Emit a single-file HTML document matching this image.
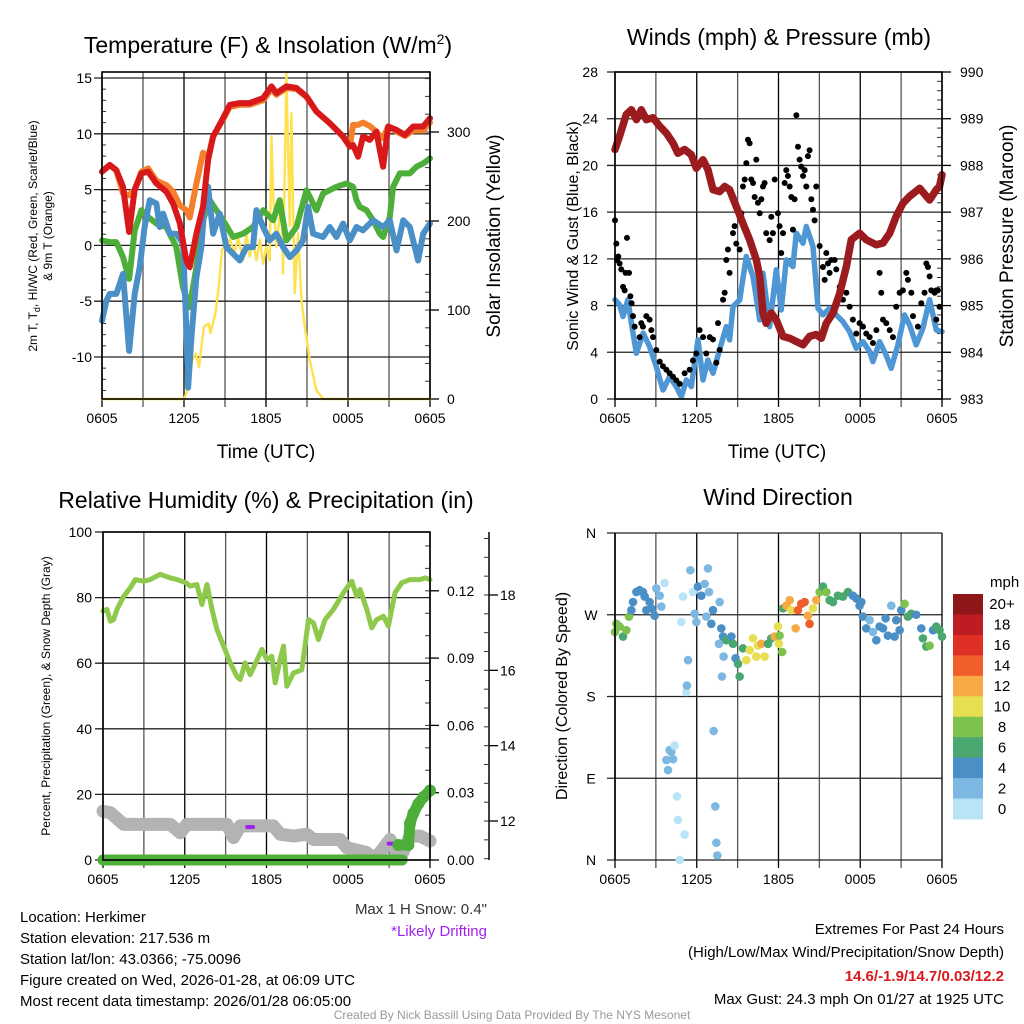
<!DOCTYPE html>
<html><head><meta charset="utf-8">
<style>
html,body{margin:0;padding:0;background:#fff;}
svg{display:block;font-family:"Liberation Sans",sans-serif;}
</style></head>
<body>
<svg id="root" width="1024" height="1024" viewBox="0 0 1024 1024" xmlns="http://www.w3.org/2000/svg">
<rect width="1024" height="1024" fill="#fff"/>
<g id="static" font-family="Liberation Sans, sans-serif" fill="#000">
 <text x="268" y="53" font-size="23" text-anchor="middle">Temperature (F) &amp; Insolation (W/m<tspan dy="-9" font-size="14">2</tspan><tspan dy="9">)</tspan></text>
 <text x="779" y="45" font-size="23" text-anchor="middle">Winds (mph) &amp; Pressure (mb)</text>
 <text x="266" y="508" font-size="23" text-anchor="middle">Relative Humidity (%) &amp; Precipitation (in)</text>
 <text x="778" y="505" font-size="23" text-anchor="middle">Wind Direction</text>
 <text x="266" y="458" font-size="19" text-anchor="middle">Time (UTC)</text>
 <text x="777" y="458" font-size="19" text-anchor="middle">Time (UTC)</text>
 <text transform="translate(37,236) rotate(-90)" font-size="12" text-anchor="middle">2m T, T<tspan dy="3" font-size="9">d</tspan><tspan dy="-3">, HI/WC (Red, Green, Scarlet/Blue)</tspan></text>
 <text transform="translate(52,236) rotate(-90)" font-size="12" text-anchor="middle">&amp; 9m T (Orange)</text>
 <text transform="translate(500,236) rotate(-90)" font-size="19" text-anchor="middle">Solar Insolation (Yellow)</text>
 <text transform="translate(578,236) rotate(-90)" font-size="16" text-anchor="middle">Sonic Wind &amp; Gust (Blue, Black)</text>
 <text transform="translate(1013,236) rotate(-90)" font-size="19" text-anchor="middle">Station Pressure (Maroon)</text>
 <text transform="translate(50,696) rotate(-90)" font-size="12" text-anchor="middle">Percent, Precipitation (Green), &amp; Snow Depth (Gray)</text>
 <text transform="translate(567,696) rotate(-90)" font-size="16" text-anchor="middle">Direction (Colored By Speed)</text>
 <text x="990" y="587" font-size="15">mph</text>
 <g font-size="15">
  <text x="20" y="922">Location: Herkimer</text>
  <text x="20" y="943">Station elevation: 217.536 m</text>
  <text x="20" y="964">Station lat/lon: 43.0366; -75.0096</text>
  <text x="20" y="985">Figure created on Wed, 2026-01-28, at 06:09 UTC</text>
  <text x="20" y="1006">Most recent data timestamp: 2026/01/28 06:05:00</text>
 </g>
 <text x="487" y="914" font-size="15" text-anchor="end" fill="#333">Max 1 H Snow: 0.4"</text>
 <text x="487" y="936" font-size="15" text-anchor="end" fill="#a020f0">*Likely Drifting</text>
 <g font-size="15" text-anchor="end">
  <text x="1004" y="934">Extremes For Past 24 Hours</text>
  <text x="1004" y="957">(High/Low/Max Wind/Precipitation/Snow Depth)</text>
  <text x="1004" y="981" fill="#d7191c" font-weight="bold">14.6/-1.9/14.7/0.03/12.2</text>
  <text x="1004" y="1004">Max Gust: 24.3 mph On 01/27 at 1925 UTC</text>
 </g>
 <text x="512" y="1019" font-size="12" text-anchor="middle" fill="#999">Created By Nick Bassill Using Data Provided By The NYS Mesonet</text>
</g>
<g id="dyn"></g>
</svg>
<script>
// ---------- data ----------
const xTickLabels = ["0605","1205","1805","0005","0605"];
const tempTicks = [15,10,5,0,-5,-10];
const insolTicks = [0,100,200,300];
const windTicks = [0,4,8,12,16,20,24,28];
const presTicks = [983,984,985,986,987,988,989,990];
const rhTicks = [0,20,40,60,80,100];
const precipTicks = [0.00,0.03,0.06,0.09,0.12];
const precipLabels = ["0.00","0.03","0.06","0.09","0.12"];
const snowTicks = [12,14,16,18];
const dirTicks = [0,90,180,270,360];
const dirLabels = ["N","E","S","W","N"];
const speedBinLabels = ["0","2","4","6","8","10","12","14","16","18","20+"];
const speedBinColors = ["#b9e4f7","#7db8e2","#4a8fc6","#4aa770","#7cc24c","#e6df52","#f7a944","#ef5f2a","#e03026","#bd1c22","#8e1719"];

const redT = [0,0.56,1.05,1.54,1.98,2.39,2.88,3.37,3.98,4.71,5.2,5.69,6.17,6.42,6.91,7.39,7.76,8.13,8.86,9.35,10.08,10.81,11.79,12.4,12.76,13.49,14.23,14.96,15.69,16.67,17.64,18.13,18.37,18.74,19.1,19.59,20.08,20.33,20.57,20.94,21.55,22.16,22.77,23.5,24];
const redV = [6.6,7.2,6.75,5.25,1.2,5.0,6.45,6.6,5.55,4.8,3.75,2.0,-1.35,-1.95,1.05,3.45,7.65,9.75,11.4,12.6,12.75,12.75,13.2,14.25,13.65,14.25,14.1,13.35,12.0,10.95,9.75,8.85,9.0,7.95,9.75,9.45,10.2,8.55,7.05,10.65,10.35,9.9,10.65,10.65,11.4];
const orangeV = [6.6,7.2,6.75,4.65,4.5,5.0,6.6,6.9,5.8,5.4,4.8,3.6,3.15,2.5,5.55,8.3,7.9,9.75,11.3,12.4,12.6,12.6,13.0,14.0,13.5,14.1,14.0,13.3,12.0,10.95,9.75,8.85,10.8,10.8,11.0,10.7,10.2,9.8,9.6,10.65,10.2,9.8,10.3,10.3,11.0];
const greenT = [0,0.56,1.05,1.54,1.98,2.39,2.88,3.37,3.98,4.71,5.44,5.93,6.42,6.91,7.39,7.88,8.86,9.59,10.32,11.05,11.79,12.52,13.0,13.49,14.23,14.96,15.69,16.18,17.15,17.89,18.37,18.62,18.86,19.35,19.84,20.33,20.57,21.06,21.3,21.79,22.52,23.01,23.5,24];
const greenV = [0.45,0.3,0.3,-1.05,-3.0,1.35,3.15,2.55,1.95,1.65,-0.15,-3.75,-5.55,-1.95,2.25,4.05,2.25,0.75,1.05,1.65,3.15,2.25,4.05,0.45,1.65,4.95,3.15,4.65,5.25,5.55,5.25,4.05,3.45,3.15,2.25,1.05,0.75,2.55,5.25,6.45,6.45,7.05,7.35,7.8];
const wcT = [0,0.32,0.56,1.05,1.54,1.98,2.39,2.76,3.12,3.49,3.98,4.22,4.47,4.95,5.44,5.93,6.17,6.3,6.54,6.91,7.27,7.52,7.76,8.13,8.61,9.1,9.59,10.08,10.57,11.05,11.3,11.79,12.27,12.76,13.25,13.74,14.23,14.71,15.08,15.45,16.18,16.67,17.15,17.64,18.13,18.62,19.1,19.84,20.57,21.06,21.55,22.04,22.52,23.13,23.5,24];
const wcV = [-6.75,-4.95,-4.35,-4.35,-2.55,-9.45,-4.35,-1.95,1.65,4.05,3.75,1.65,2.85,1.05,1.05,0.15,-7.35,-12.75,-8.25,-2.85,-0.15,4.05,5.25,1.05,2.85,-0.15,-0.75,-1.35,-0.15,-0.15,3.15,1.65,0.45,1.05,-0.15,-1.05,-0.45,0.45,3.45,1.05,0.75,1.65,0.75,1.95,0.45,1.65,1.35,2.25,1.65,2.25,-0.45,2.25,1.65,-1.35,1.05,1.95];
const insolT = [0,6.0,6.25,6.61,6.86,7.1,7.45,7.81,7.93,8.3,8.54,8.79,9.35,9.71,9.96,10.32,10.57,10.81,11.06,11.3,11.55,11.79,12.03,12.27,12.4,12.52,12.76,13.12,13.25,13.49,13.74,13.86,14.1,14.35,14.6,14.84,15.2,15.69,16.18,24];
const insolV = [0,0,10,44,51,36,81,85,74,96,126,168,179,164,182,156,186,160,179,156,179,152,171,156,295,231,171,224,141,366,194,321,119,186,111,81,44,10,0,0];

const presT = [0,0.34,0.83,1.2,1.57,1.93,2.3,2.79,3.28,3.77,4.26,4.62,5.11,5.6,5.97,6.46,6.82,7.19,7.68,8.05,8.41,8.9,9.39,9.88,10.37,10.62,10.86,11.1,11.47,11.84,12.33,12.82,13.31,13.8,14.28,14.77,15.14,15.51,16.0,16.49,16.98,17.34,17.95,18.44,19.18,19.67,20.16,20.64,21.13,21.62,22.36,23.09,23.58,23.82,24];
const presV = [988.34,988.63,989.09,989.19,988.98,989.19,988.98,989.02,988.84,988.69,988.48,988.26,988.34,988.23,987.94,988.12,987.91,987.48,987.44,987.55,987.48,987.12,986.76,986.41,985.98,985.62,984.84,984.62,984.84,984.69,984.34,984.3,984.23,984.16,984.34,984.38,984.3,984.62,984.84,985.26,985.84,986.41,986.55,986.41,986.3,986.34,986.55,986.91,987.19,987.34,987.51,987.26,987.48,987.55,987.8];
const windT = [0,0.34,0.59,0.95,1.2,1.57,2.06,2.54,3.03,3.52,4.01,4.5,4.87,5.23,5.6,6.09,6.46,6.82,7.19,7.68,8.17,8.41,8.66,9.15,9.64,10.13,10.62,10.86,11.35,11.84,12.2,12.57,13.06,13.31,13.8,14.04,14.53,14.9,15.26,15.75,16.24,16.73,17.22,17.71,18.2,18.69,18.93,19.42,19.9,20.27,20.76,21.25,21.62,22.11,22.6,23.09,23.58,24];
const windV = [8.49,8.06,7.06,8.49,6.49,3.91,5.63,4.49,2.77,0.77,1.91,1.06,0.2,1.63,1.06,5.06,1.63,3.34,2.2,4.2,6.2,5.06,7.91,8.49,12.2,10.49,6.77,10.77,6.2,11.06,7.63,11.91,11.34,14.2,13.34,14.77,13.06,7.77,7.2,7.77,7.2,6.63,5.77,4.34,4.91,4.06,3.2,4.91,3.77,2.63,4.63,7.2,6.34,4.63,6.06,8.49,5.91,5.77];
const gustT = [0,0.1,0.15,0.24,0.34,0.46,0.59,0.71,0.78,0.88,1.03,1.13,1.22,1.32,1.44,1.81,1.93,2.05,2.3,2.54,2.67,2.79,3.03,3.28,3.52,3.77,4.01,4.26,4.5,4.75,5.11,5.48,5.72,5.97,6.21,6.46,6.7,6.95,7.19,7.44,7.68,7.56,7.93,8.05,8.17,8.29,8.41,8.66,8.78,8.9,9.03,9.15,9.27,9.39,9.52,9.64,9.76,9.88,10.0,10.13,10.25,10.37,10.49,10.62,10.74,10.86,10.98,11.1,11.35,11.47,11.59,11.72,11.96,12.08,12.2,12.33,12.45,12.57,12.69,12.82,12.94,13.06,13.18,13.31,13.43,13.55,13.67,13.8,13.92,14.04,14.16,14.28,14.41,14.53,14.65,14.77,15.02,15.26,15.39,15.51,15.63,15.75,15.87,16.12,16.24,16.49,16.73,16.98,17.22,17.46,17.71,17.95,18.2,18.44,18.69,18.93,19.18,19.42,19.54,19.67,19.91,20.16,20.4,20.64,20.89,21.13,21.38,21.5,21.75,21.87,22.23,22.48,22.72,22.85,22.97,23.09,23.21,23.46,23.58,23.7,23.82,23.58];
const gustV = [15.3,13.3,11.9,12.2,11.6,11.1,9.6,9.3,10.8,13.8,10.8,8.8,8.2,7.1,6.2,5.3,6.5,6.2,7.1,6.8,5.9,5.3,4.2,3.2,2.8,2.5,2.2,1.9,1.6,1.3,2.2,2.5,3.3,3.9,5.9,5.3,3.9,5.3,5.1,3.1,4.2,6.5,8.5,9.1,11.9,12.8,10.8,14.2,14.8,13.3,16.2,12.8,15.9,18.2,18.8,20.2,22.2,21.9,18.8,18.5,17.3,20.5,16.8,15.9,17.1,18.2,18.5,14.2,13.6,15.6,14.2,18.8,15.9,14.8,12.5,14.2,18.5,19.6,19.1,18.2,17.3,14.5,17.1,24.3,21.6,20.5,19.9,19.1,19.6,18.2,20.8,21.3,17.1,16.2,15.3,18.2,13.1,11.3,10.2,12.5,11.6,10.8,11.9,11.9,11.1,9.6,8.5,9.1,7.9,6.8,5.6,6.5,6.2,5.6,5.3,4.8,5.9,10.8,9.1,6.8,6.5,5.9,5.3,7.9,9.1,9.3,10.8,10.2,9.1,7.1,6.2,8.2,9.1,11.6,11.3,10.5,9.3,9.1,9.3,9.3,7.9,6.8];

const rhT = [0,0.29,0.54,0.78,1.03,1.52,2.0,2.37,2.98,3.47,4.2,4.94,5.43,6.11,6.4,6.89,7.26,7.63,8.0,8.36,8.85,9.34,9.82,10.07,10.43,10.8,11.66,12.02,12.39,12.64,13.0,13.25,13.49,13.98,14.59,15.08,15.45,15.81,16.3,16.91,17.65,18.26,18.62,18.87,19.36,19.72,20.09,20.58,20.95,21.43,21.92,22.53,23.27,23.63,24];
const rhV = [75.9,76.4,72.8,73.3,76.4,80.4,83.0,85.5,85.0,85.5,87.1,86.0,85.5,84.5,83.5,84.0,77.9,84.0,76.4,70.3,65.2,60.1,56.0,55.0,60.1,56.5,64.2,61.1,62.1,54.0,61.1,65.2,53.0,57.0,58.0,73.3,72.3,67.2,73.3,76.4,81.5,85.0,80.4,82.5,76.4,70.8,73.3,74.3,71.3,81.5,84.5,85.5,85.5,86.0,85.5];
const snowT = [0,0.54,1.52,3.23,4.94,5.67,6.16,9.09,9.58,10.07,11.29,12.51,13.0,13.98,14.96,15.45,17.4,17.89,19.36,19.84,20.33,21.07,21.8,22.53,23.27,24];
const snowV = [12.26,12.22,11.91,11.91,11.91,11.69,11.91,11.91,11.56,11.87,11.87,11.87,11.65,11.6,11.65,11.51,11.51,11.29,11.16,10.99,11.16,11.51,10.99,11.6,11.6,11.47];
const precipBaseT = [0,21.95];
const precipBaseV = [0,0];
const precipT = [21.68,22.41,22.53,22.78,23.14,23.51,24];
const precipV = [0.0067,0.0067,0.0163,0.0208,0.025,0.028,0.031];
const driftT = [10.8,21.19];
const driftV = [11.84,11.4];

const dirT = [0,0.1,0.34,0.59,0.83,1.03,1.2,1.32,1.57,1.81,2.05,2.18,2.3,2.54,2.67,2.91,3.03,3.28,3.4,3.64,3.77,3.89,4.01,4.13,4.38,4.26,4.55,4.62,4.75,5.11,4.87,4.99,5.23,5.28,5.36,5.53,5.72,5.85,5.97,6.09,6.34,6.58,6.7,6.82,6.9,7.19,7.24,7.36,7.44,7.51,7.07,7.68,7.8,7.93,7.63,7.85,7.97,8.17,8.54,8.66,8.85,9.03,9.15,9.39,9.64,9.88,10.13,10.37,10.49,10.74,10.98,11.23,11.47,11.72,11.96,12.08,12.27,12.03,12.33,12.57,12.82,12.94,13.26,13.43,13.67,13.92,14.16,14.28,14.53,14.77,15.02,15.26,15.51,15.75,16.0,16.36,16.73,17.1,17.46,17.71,18.08,17.95,18.2,18.44,18.69,18.93,19.18,19.42,19.67,19.86,20.03,20.28,20.52,20.64,20.89,21.01,21.25,21.5,21.75,22.11,22.48,22.6,22.85,23.09,23.34,23.58,23.82,24];
const dirV = [251,260,257,246,253,268,275,284,295,297,295,290,275,284,277,269,299,291,279,305,110,99,121,119,126,111,70,44,0,28,262,290,185,192,220,319,295,271,262,301,291,304,268,321,295,275,142,59,19,5,260,284,255,246,238,202,224,242,246,238,222,216,202,233,220,231,244,224,236,238,224,238,244,246,257,247,229,238,277,280,286,275,255,275,282,284,269,260,277,286,295,301,295,286,284,291,290,295,291,288,284,280,268,255,264,251,242,257,255,266,247,280,246,264,253,275,282,268,271,270,255,244,235,236,253,257,253,246];
const dirSpeed = [8,8,8,6,8,8,4,4,4,4,4,4,4,4,4,4,3,2,2,1,2,3,3,3,1,2,1,1,1,1,1,1,1,2,2,3,1,2,3,4,4,3,3,3,3,4,3,3,3,3,4,2,4,4,3,3,2,6,4,6,4,6,6,6,10,11,10,10,11,12,10,6,6,12,10,8,8,10,7,12,12,10,12,14,15,14,12,15,10,12,8,6,8,6,7,6,6,6,5,4,4,4,4,4,2,3,4,4,4,4,4,2,4,4,4,4,8,6,6,4,4,6,6,8,4,6,6,6];

// ---------- helpers ----------
const NS = "http://www.w3.org/2000/svg";
const dyn = document.getElementById("dyn");
function mk(tag, attrs, parent){const e=document.createElementNS(NS,tag);for(const k in attrs)e.setAttribute(k,attrs[k]);(parent||dyn).appendChild(e);return e;}
function panelX(P){return t=>P.l+t/24*(P.r-P.l);}
function linScale(d0,d1,r0,r1){return v=>r0+(v-d0)/(d1-d0)*(r1-r0);}
function pathD(ts,vs,sx,sy){let d="";for(let i=0;i<ts.length;i++)d+=(i?"L":"M")+sx(ts[i]).toFixed(1)+","+sy(vs[i]).toFixed(1);return d;}

const P1={l:102,r:430,t:72,b:399}, P2={l:615,r:942,t:72,b:399}, P3={l:103,r:430,t:532,b:860}, P4={l:615,r:942,t:533,b:860};

function frame(P, key){
  const g=mk("g",{});
  
  
  const sx=panelX(P);
  for(let h=0;h<=24;h+=3){
    const x=sx(h);
    const ln=mk("line",{x1:x,y1:P.t,x2:x,y2:P.b+8,stroke:(h%6==0)?"#000":"#555","stroke-width":1.3},g);
    
    
  }
  xTickLabels.forEach((lab,i)=>{
    const t=mk("text",{x:sx(i*6),y:P.b+24,"font-size":14,"text-anchor":"middle"},g);
    t.textContent=lab;
    
    
  });
  return g;
}
function hgrid(g,P,key,ticks,sy,labels,lx,anchor){
  ticks.forEach((v,i)=>{
    const y=sy(v);
    const ln=mk("line",{x1:P.l-8,y1:y,x2:P.r,y2:y,stroke:"#222","stroke-width":1.3},g);
    
    
    const t=mk("text",{x:lx,y:y+5,"font-size":14,"text-anchor":anchor},g);
    t.textContent=labels?labels[i]:String(v);
    
    
  });
}
function rightAxis(g,P,key,ticks,sy,labels,minorStep,lo,hi,axX,lx){
  const ax=axX||P.r;
  for(let v=lo;v<=hi+1e-9;v+=minorStep){const y=sy(v);if(y<P.t-0.5||y>P.b+0.5)continue;
    const m=mk("line",{x1:ax-5,y1:y,x2:ax,y2:y,stroke:"#333","stroke-width":1},g);
    
    }
  ticks.forEach((v,i)=>{const y=sy(v);
    const m=mk("line",{x1:ax,y1:y,x2:ax+9,y2:y,stroke:"#000","stroke-width":1.3},g);
    
    
    const t=mk("text",{x:lx,y:y+5,"font-size":14},g);
    t.textContent=labels?labels[i]:String(v);
    
    });
}
function series(ts,vs,sx,sy,color,w,name,op){
  const p=mk("path",{d:pathD(ts,vs,sx,sy),fill:"none",stroke:color,"stroke-width":w,"stroke-linejoin":"round","stroke-linecap":"round",opacity:op||1});
  
  
  return p;
}
function boxOutline(P,key){
  const r=mk("rect",{x:P.l,y:P.t,width:P.r-P.l,height:P.b-P.t,fill:"none",stroke:"#000","stroke-width":1.6});
  
  
}

// ---------- Panel 1 ----------
{
  const sx=panelX(P1), sy=linScale(15,-10,78,357), syI=linScale(0,300,399,132);
  const g=frame(P1,"temp");
  hgrid(g,P1,"temp",tempTicks,sy,null,92,"end");
  rightAxis(g,P1,"insolation",insolTicks,syI,null,20,0,360,P1.r,447);
  for(let v=-13;v<=15;v++){const m=mk("line",{x1:P1.l,y1:sy(v),x2:P1.l+4,y2:sy(v),stroke:"#333"},g);
    
    }
  series(insolT,insolV,sx,syI,"#fde14e",2.4,"insolation-line");
  series(greenT,greenV,sx,sy,"#4daf3a",6,"dewpoint-line");
  series(wcT,wcV,sx,sy,"#4a8fc6",6,"windchill-line");
  series(redT,orangeV,sx,sy,"#f4802e",6,"temp-9m-line");
  series(redT,redV,sx,sy,"#d7191c",6,"temp-2m-line");
  boxOutline(P1,"temp");
}
// ---------- Panel 2 ----------
{
  const sx=panelX(P2), sy=linScale(0,28,399,72), syP=linScale(983,990,399,72);
  const g=frame(P2,"wind");
  hgrid(g,P2,"wind",windTicks,sy,null,598,"end");
  rightAxis(g,P2,"pressure",presTicks,syP,null,0.2,983,990,P2.r,960);
  series(windT,windV,sx,sy,"#4f97d4",5.5,"sonic-wind-line");
  gustT.forEach((t,i)=>{
    const c=mk("circle",{cx:sx(t),cy:sy(gustV[i]),r:3,fill:"#000"});
    
    
  });
  series(presT,presV,sx,syP,"#9b1b1e",7.5,"pressure-line");
  boxOutline(P2,"wind");
}
// ---------- Panel 3 ----------
{
  const sx=panelX(P3), sy=linScale(0,100,860,532), syPr=linScale(0,0.03,860,792.7), sySn=linScale(12,18,821,595);
  const g=frame(P3,"humidity");
  hgrid(g,P3,"humidity",rhTicks,sy,null,92,"end");
  rightAxis(g,P3,"precip",precipTicks,syPr,precipLabels,0.01,0,0.146,P3.r,447);
  const ax=mk("line",{x1:489,y1:P3.t,x2:489,y2:P3.b,stroke:"#000","stroke-width":1.5},g);
  
  
  rightAxis(g,{t:P3.t,b:P3.b},"snow",snowTicks,sySn,null,0.5,11,19.5,489,500);
  series(snowT,snowV,sx,sySn,"#b3b3b3",13,"snow-depth-line");
  driftT.forEach((t,i)=>{
    const c=mk("line",{x1:sx(t)-3,y1:sySn(driftV[i]),x2:sx(t)+3,y2:sySn(driftV[i]),stroke:"#a020f0","stroke-width":4,"stroke-linecap":"round"});
    
    
  });
  series(rhT,rhV,sx,sy,"#8fc94c",5,"humidity-line");
  series(precipBaseT,precipBaseV,sx,syPr,"#4daf3a",11,"precip-baseline");
  precipT.forEach((t,i)=>{
    const c=mk("circle",{cx:sx(t),cy:syPr(precipV[i]),r:6,fill:"#4daf3a"});
    
    
  });
  series(precipT,precipV,sx,syPr,"#4daf3a",11,"precip-line");
  boxOutline(P3,"humidity");
}
// ---------- Panel 4 ----------
{
  const sx=panelX(P4), sy=linScale(0,360,860,533);
  const g=frame(P4,"direction");
  hgrid(g,P4,"direction",dirTicks,sy,dirLabels,591,"middle");
  dirT.forEach((t,i)=>{
    const bin=Math.min(10,Math.floor(dirSpeed[i]/2));
    const c=mk("circle",{cx:sx(t),cy:sy(dirV[i]),r:4.3,fill:speedBinColors[bin]});
    
    
  });
  const lx=mk("line",{x1:P4.l,y1:P4.t,x2:P4.l,y2:P4.b,stroke:"#000","stroke-width":1.6});
  
  
  const bh=(819-594)/speedBinLabels.length;
  speedBinLabels.forEach((lab,i)=>{
    const k=speedBinLabels.length-1-i;
    const y=594+i*bh;
    const r=mk("rect",{x:953,y:y,width:30,height:bh+0.5,fill:speedBinColors[k]});
    
    
    const t=mk("text",{x:1002,y:y+bh/2+5,"font-size":15,"text-anchor":"middle"});
    t.textContent=speedBinLabels[k];
    
    
  });
}
</script>
</body></html>
